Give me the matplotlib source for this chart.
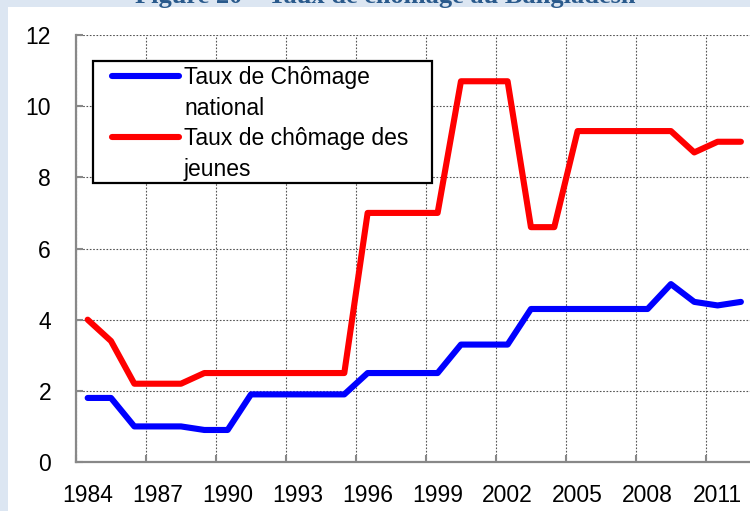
import matplotlib.pyplot as plt
from matplotlib.patches import Rectangle
from matplotlib.lines import Line2D

years = list(range(1984, 2013))
national = [1.8, 1.8, 1.0, 1.0, 1.0, 0.9, 0.9, 1.9, 1.9, 1.9, 1.9, 1.9,
            2.5, 2.5, 2.5, 2.5, 3.3, 3.3, 3.3, 4.3, 4.3, 4.3, 4.3, 4.3, 4.3,
            5.0, 4.5, 4.4, 4.5]
jeunes = [4.0, 3.4, 2.2, 2.2, 2.2, 2.5, 2.5, 2.5, 2.5, 2.5, 2.5, 2.5,
          7.0, 7.0, 7.0, 7.0, 10.7, 10.7, 10.7, 6.6, 6.6, 9.3, 9.3, 9.3, 9.3,
          9.3, 8.7, 9.0, 9.0]
labels = ["Taux de Chômage\nnational", "Taux de chômage des\njeunes"]
colors = ["#0000ff", "#ff0000"]
title = "Figure 20 – Taux de chômage au Bangladesh"

W, H = 750, 511
plt.rcParams['font.family'] = ['Liberation Sans', 'DejaVu Sans']

fig = plt.figure(figsize=(W / 100, H / 100), dpi=100)
fig.patch.set_facecolor("#dce6f2")


def fx(x):
    return x / W


def fy(y):
    return 1 - y / H


# white chart area, behind the axes
fig.patches.append(Rectangle((fx(8), 0), 1 - fx(8), fy(7), transform=fig.transFigure,
                             facecolor="white", edgecolor="none", zorder=-5))
fig.text(fx(385), fy(3), title, ha="center", va="baseline", fontsize=19,
         fontweight="bold", family="Liberation Serif", color="#2a5a8c")

ax = fig.add_axes([fx(76), fy(462), 1 - fx(76), fy(35) - fy(462)])
ax.set_facecolor("white")

ax.plot(years, national, color=colors[0], lw=4.4, solid_capstyle="round",
        solid_joinstyle="round", zorder=3)
ax.plot(years, jeunes, color=colors[1], lw=4.4, solid_capstyle="round",
        solid_joinstyle="round", zorder=3)

ax.set_xlim(1983.5, 1983.5 + (W - 76) / 23.33)
ax.set_ylim(0, 12)

ax.set_xticks([1983.5 + 3 * k for k in range(10)])
ax.set_xticklabels([])
ax.set_xticks(years[::3], minor=True)
ax.set_xticklabels([str(y) for y in years[::3]], minor=True, fontsize=16.5)
ax.tick_params(axis="x", which="minor", length=0, pad=16)
ax.set_yticks(range(0, 13, 2))
ax.tick_params(axis="y", labelsize=16.5, pad=18)
ax.tick_params(which="major", direction="in", length=5, width=1.5, color="#888888")

ax.grid(True, which="major", linestyle=(0, (1.5, 1.5)), color="#555555", lw=0.8)
for s in ["top", "right"]:
    ax.spines[s].set_visible(False)
for s in ["left", "bottom"]:
    ax.spines[s].set_color("#888888")
    ax.spines[s].set_linewidth(1.6)

# legend drawn by hand to keep the handle on the first text line
fig.patches.append(Rectangle((fx(93), fy(183)), fx(432) - fx(93), fy(61) - fy(183),
                             transform=fig.transFigure, facecolor="white",
                             edgecolor="black", lw=1.6, zorder=5))
for i, (lab, c) in enumerate(zip(labels, colors)):
    yl = 76 + i * 61
    fig.lines.append(Line2D([fx(112), fx(179)], [fy(yl), fy(yl)], color=c, lw=4.4,
                            solid_capstyle="round", transform=fig.transFigure, zorder=6))
    first, second = lab.split("\n")
    fig.text(fx(184), fy(yl + 8), first, fontsize=16.5, va="baseline", zorder=6)
    fig.text(fx(184), fy(yl + 39), second, fontsize=16.5, va="baseline", zorder=6)

fig.savefig("out.png", dpi=100)
